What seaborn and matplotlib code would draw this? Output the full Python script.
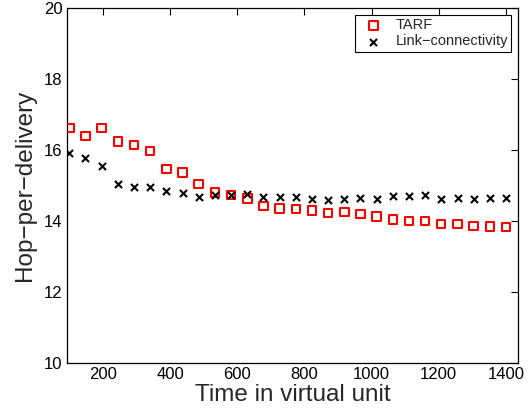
import matplotlib
matplotlib.use("Agg")
import matplotlib.pyplot as plt
import seaborn as sns
import pandas as pd

# Simulation time (virtual units)
time_units = [100, 148, 196, 244, 293, 341, 389, 437, 485, 533, 581, 630, 678, 726,
              774, 822, 870, 919, 967, 1015, 1063, 1111, 1159, 1207, 1256, 1304, 1352, 1400]

# Average hops per delivery
tarf_hops = [16.63, 16.40, 16.63, 16.24, 16.14, 15.98, 15.46, 15.37, 15.04, 14.81,
             14.74, 14.64, 14.42, 14.36, 14.34, 14.30, 14.23, 14.25, 14.20, 14.13,
             14.05, 14.01, 14.01, 13.93, 13.93, 13.87, 13.85, 13.84]
link_hops = [15.93, 15.77, 15.56, 15.06, 14.95, 14.95, 14.86, 14.79, 14.69, 14.74,
             14.74, 14.76, 14.67, 14.69, 14.69, 14.62, 14.60, 14.62, 14.65, 14.62,
             14.71, 14.70, 14.74, 14.62, 14.64, 14.62, 14.64, 14.64]

x_ticks = [200, 400, 600, 800, 1000, 1200, 1400]
y_ticks = [10, 12, 14, 16, 18, 20]

sns.set_style("white")
plt.rcParams["font.family"] = ["Liberation Sans", "DejaVu Sans"]

df = pd.DataFrame({"time": time_units, "tarf": tarf_hops, "link": link_hops})

fig = plt.figure(figsize=(5.28, 4.13), dpi=100)
ax = fig.add_axes([0.1263, 0.1203, 0.8547, 0.8603])

sns.scatterplot(data=df, x="time", y="tarf", ax=ax, marker="s", s=36,
                facecolors="none", edgecolor="#ff0000", linewidth=1.5,
                label="TARF", zorder=3)
sns.scatterplot(data=df, x="time", y="link", ax=ax, marker="x", s=26,
                color="black", linewidth=1.5, label="Link\u2212connectivity", zorder=3)

ax.set_xlim(92, 1436)
ax.set_ylim(10, 20)
ax.set_xticks(x_ticks)
ax.set_yticks(y_ticks)
ax.tick_params(direction="in", length=5, width=0.8, labelsize=12,
               top=True, right=True, colors="black", pad=3)
for s in ax.spines.values():
    s.set_visible(True)
    s.set_color("black")
    s.set_linewidth(0.9)

ax.set_xlabel("Time in virtual unit", fontsize=17.5, labelpad=1)
ax.set_ylabel("Hop\u2212per\u2212delivery", fontsize=17.5, labelpad=6)

leg = ax.legend(loc="upper right", fontsize=10.5, frameon=True, fancybox=False,
                framealpha=1, edgecolor="black", borderpad=0.25, labelspacing=0.15,
                handletextpad=0.5, borderaxespad=0.45, handlelength=2.0)
leg.get_frame().set_linewidth(0.8)

fig.savefig("out.png", dpi=100)
